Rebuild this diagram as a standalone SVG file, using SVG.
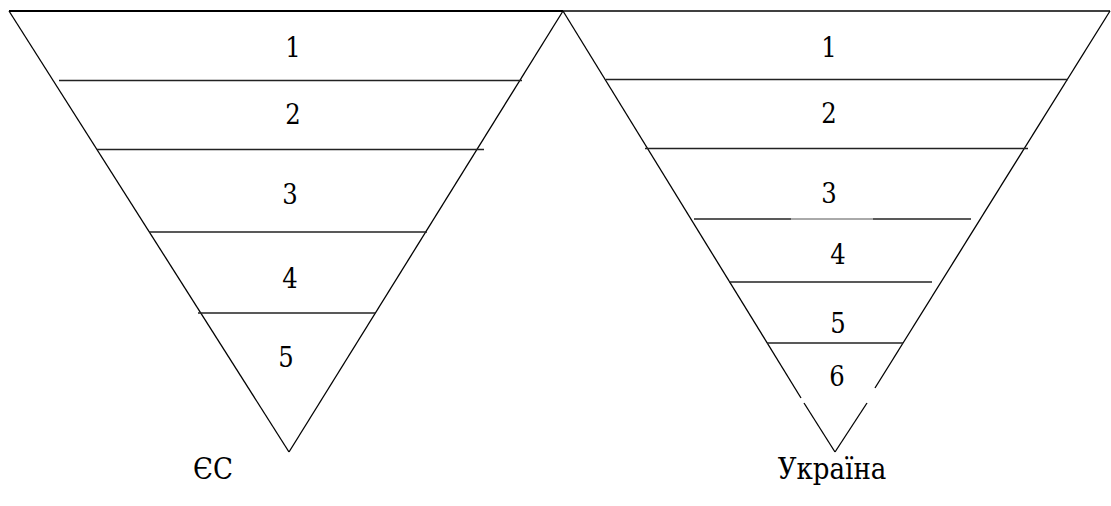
<svg xmlns="http://www.w3.org/2000/svg" width="1111" height="506" viewBox="0 0 1111 506">
<style>
.s{stroke:#000;stroke-width:1.3;fill:none;stroke-linecap:butt}
.h{stroke:#222;stroke-width:1.5;fill:none}
.t{font-size:27px;fill:#000;text-anchor:middle}
.c{font-size:29px}
</style>
<rect width="1111" height="506" fill="#fff"/>
<g id="eu">
<line class="s" x1="9" y1="11" x2="289" y2="452"/>
<line class="s" x1="289" y1="452" x2="563" y2="11"/>
<line x1="9" y1="11" x2="563" y2="11" stroke="#000" stroke-width="2.2"/>
<line class="h" x1="59" y1="80.5" x2="522" y2="80.5"/>
<line class="h" x1="97" y1="149.5" x2="484" y2="149.5"/>
<line class="h" x1="149" y1="232" x2="427" y2="232"/>
<line class="h" x1="198" y1="313" x2="375" y2="313"/>
<g class="t" font-family="'DejaVu Serif Condensed', 'DejaVu Serif', serif">
<text x="293" y="57">1</text>
<text x="293" y="124">2</text>
<text x="290" y="204">3</text>
<text x="290" y="288">4</text>
<text x="286" y="367">5</text>
<text class="c" x="213" y="479">ЄС</text>
</g>
</g>
<g id="ukraine">
<line x1="563" y1="11" x2="1110" y2="11" stroke="#000" stroke-width="1.6"/>
<line class="s" x1="563" y1="11" x2="801" y2="398"/>
<line class="s" x1="804" y1="403" x2="835" y2="452"/>
<line class="s" x1="835" y1="452" x2="867" y2="403"/>
<line class="s" x1="875" y1="388" x2="1110" y2="11"/>
<line class="h" x1="606" y1="79.5" x2="1068" y2="79.5"/>
<line class="h" x1="645" y1="148.5" x2="1028" y2="148.5"/>
<line class="h" x1="694" y1="219" x2="791" y2="219"/>
<line x1="791" y1="219" x2="873" y2="219" stroke="#555" stroke-width="1"/>
<line class="h" x1="873" y1="219" x2="971" y2="219"/>
<line class="h" x1="729" y1="282" x2="932" y2="282"/>
<line class="h" x1="767" y1="343" x2="903" y2="343"/>
<g class="t" font-family="'DejaVu Serif Condensed', 'DejaVu Serif', serif">
<text x="829" y="57">1</text>
<text x="829" y="123">2</text>
<text x="829" y="203">3</text>
<text x="838" y="264">4</text>
<text x="838" y="333">5</text>
<text x="837" y="386">6</text>
<text class="c" x="832" y="479">Україна</text>
</g>
</g>
</svg>
